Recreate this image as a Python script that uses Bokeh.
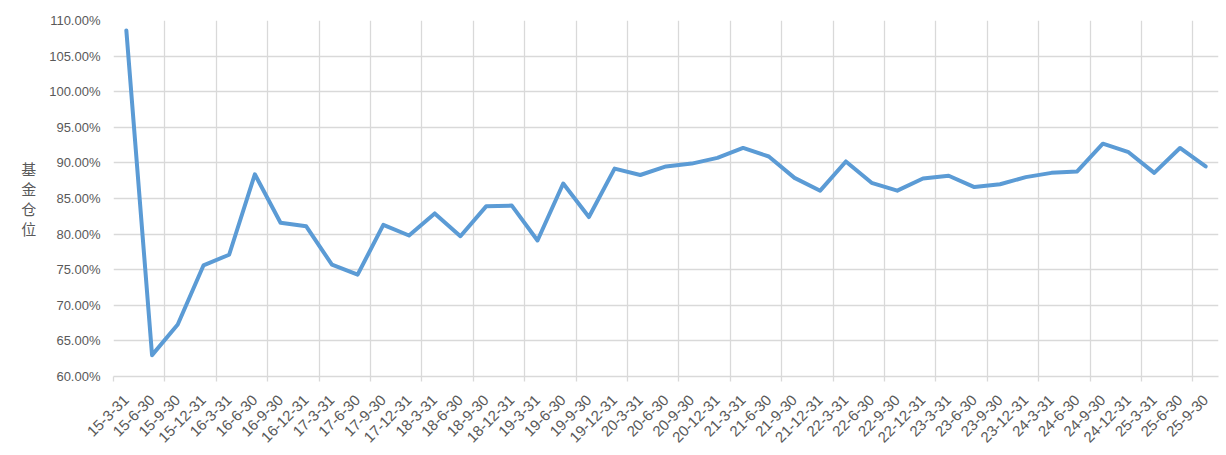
from bokeh.plotting import figure
from bokeh.models import Range1d, FixedTicker, PrintfTickFormatter
from bokeh.embed import file_html
from bokeh.resources import INLINE

quarters = [
    "15-3-31", "15-6-30", "15-9-30", "15-12-31",
    "16-3-31", "16-6-30", "16-9-30", "16-12-31",
    "17-3-31", "17-6-30", "17-9-30", "17-12-31",
    "18-3-31", "18-6-30", "18-9-30", "18-12-31",
    "19-3-31", "19-6-30", "19-9-30", "19-12-31",
    "20-3-31", "20-6-30", "20-9-30", "20-12-31",
    "21-3-31", "21-6-30", "21-9-30", "21-12-31",
    "22-3-31", "22-6-30", "22-9-30", "22-12-31",
    "23-3-31", "23-6-30", "23-9-30", "23-12-31",
    "24-3-31", "24-6-30", "24-9-30", "24-12-31",
    "25-3-31", "25-6-30", "25-9-30",
]
position = [
    108.6, 63.0, 67.3, 75.6,
    77.1, 88.4, 81.6, 81.1,
    75.7, 74.3, 81.3, 79.8,
    82.9, 79.7, 83.9, 84.0,
    79.1, 87.1, 82.4, 89.2,
    88.3, 89.5, 89.9, 90.7,
    92.1, 90.9, 87.9, 86.1,
    90.2, 87.2, 86.1, 87.8,
    88.2, 86.6, 87.0, 88.0,
    88.6, 88.8, 92.7, 91.5,
    88.6, 92.1, 89.5,
]
y_ticks = [60, 65, 70, 75, 80, 85, 90, 95, 100, 105, 110]
y_title = "基\n金\n仓\n位"

n = len(quarters)
xs = list(range(n))

p = figure(width=1220, height=452, output_backend="svg", toolbar_location=None,
           x_range=Range1d(-0.5, n - 0.5), y_range=Range1d(60, 110),
           min_border_left=113, min_border_top=20, min_border_right=2,
           min_border_bottom=76)
p.outline_line_color = None
p.background_fill_color = "white"
p.border_fill_color = "white"

p.line(xs, position, line_color="#5B9BD5", line_width=4,
       line_join="round", line_cap="round")

gray_txt = "#595959"
grid_col = "#d9d9d9"

# x axis
xt = FixedTicker(ticks=xs, minor_ticks=[i - 0.5 for i in range(0, n, 2)])
p.xaxis.ticker = xt
p.xaxis.major_label_overrides = {i: q for i, q in enumerate(quarters)}
p.xaxis.major_label_orientation = 0.7854
p.xaxis.major_tick_line_color = None
p.xaxis.minor_tick_line_color = grid_col
p.xaxis.minor_tick_line_width = 1.3
p.xaxis.minor_tick_out = 5
p.xaxis.minor_tick_in = 0
p.xaxis.axis_line_color = grid_col
p.xaxis.axis_line_width = 1.3
p.xaxis.major_label_text_color = gray_txt
p.xaxis.major_label_text_font = "Liberation Sans"
p.xaxis.major_label_text_font_size = "15px"
p.xaxis.major_label_standoff = 15

p.xgrid.grid_line_color = None
p.xgrid.minor_grid_line_color = grid_col
p.xgrid.minor_grid_line_width = 1.3

# y axis
p.yaxis.ticker = FixedTicker(ticks=y_ticks)
p.yaxis.formatter = PrintfTickFormatter(format="%.2f%%")
p.yaxis.axis_line_color = None
p.yaxis.major_tick_line_color = None
p.yaxis.major_tick_out = 0
p.yaxis.minor_tick_line_color = None
p.yaxis.major_label_text_color = gray_txt
p.yaxis.major_label_text_font = "Liberation Sans"
p.yaxis.major_label_text_font_size = "13px"
p.yaxis.major_label_standoff = 13
p.yaxis.axis_label = y_title
p.yaxis.axis_label_orientation = "horizontal"
p.yaxis.axis_label_text_font = "Noto Sans CJK SC"
p.yaxis.axis_label_text_font_style = "normal"
p.yaxis.axis_label_text_font_size = "15px"
p.yaxis.axis_label_text_color = gray_txt
p.yaxis.axis_label_text_line_height = 0.95
p.yaxis.axis_label_standoff = 10

p.ygrid.grid_line_color = grid_col
p.ygrid.grid_line_width = 1.3

open("out.html", "w").write(file_html(p, INLINE))
